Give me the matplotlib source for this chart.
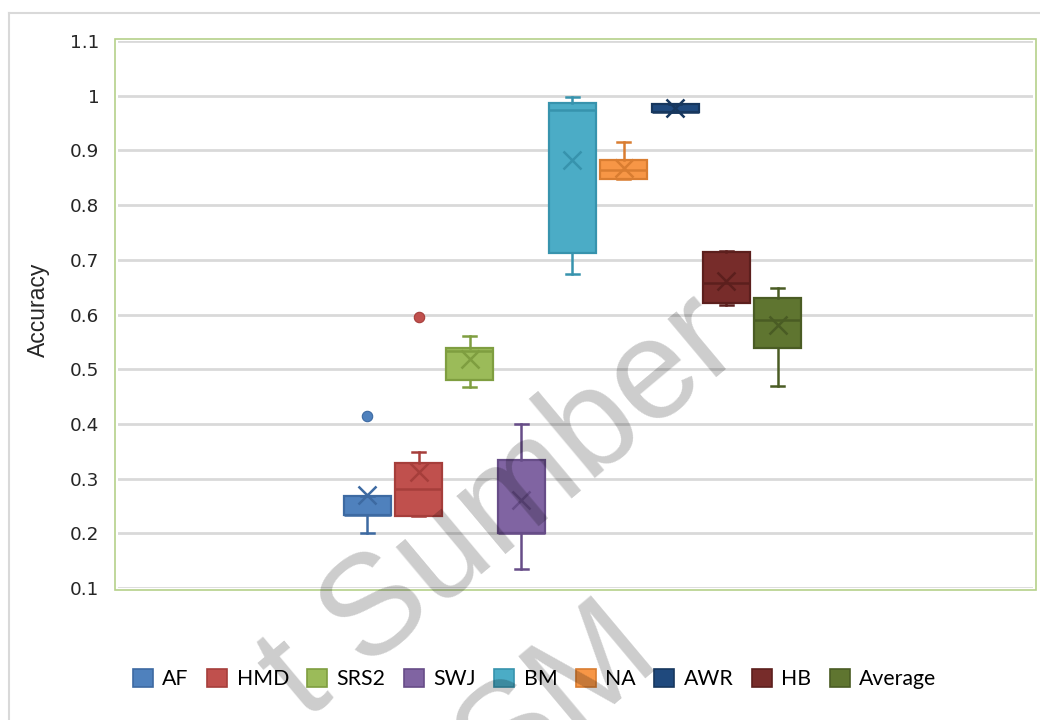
import matplotlib
matplotlib.use("Agg")
import matplotlib.pyplot as plt
from matplotlib.patches import Patch, Rectangle
from matplotlib.lines import Line2D

# Series names and five-number summaries of accuracy per method
labels = ['AF', 'HMD', 'SRS2', 'SWJ', 'BM', 'NA', 'AWR', 'HB', 'Average']
q1 = [0.233, 0.231, 0.481, 0.200, 0.712, 0.848, 0.970, 0.621, 0.539]
median = [0.233, 0.281, 0.533, 0.200, 0.974, 0.865, 0.970, 0.658, 0.590]
q3 = [0.268, 0.328, 0.539, 0.334, 0.986, 0.882, 0.984, 0.715, 0.630]
whisker_low = [0.201, 0.231, 0.467, 0.134, 0.674, 0.848, 0.970, 0.617, 0.470]
whisker_high = [0.268, 0.348, 0.560, 0.400, 0.998, 0.915, 0.984, 0.717, 0.649]
mean = [0.270, 0.312, 0.518, 0.260, 0.882, 0.868, 0.978, 0.662, 0.580]
outliers = [[0.414], [0.595], [], [], [], [], [], [], []]

y_ticks = [0.1, 0.2, 0.3, 0.4, 0.5, 0.6, 0.7, 0.8, 0.9, 1.0, 1.1]
y_ticklabels = ['0.1', '0.2', '0.3', '0.4', '0.5', '0.6', '0.7', '0.8', '0.9', '1', '1.1']

fills = ['#4f81bd', '#c0504d', '#9bbb59', '#8064a2', '#4bacc6',
         '#f79646', '#1f497d', '#772c2a', '#5f7530']
edges = ['#3d6aa2', '#a63e3b', '#7f9e40', '#674d88', '#3793ad',
         '#d97d31', '#17375e', '#5c1f1d', '#4a5c24']

W, H = 1040, 720
fig = plt.figure(figsize=(W / 100, H / 100), dpi=100)

# outer chart frame (top and left edges visible)
fig.add_artist(Line2D([8.5 / W, 1.0], [1 - 12.5 / H] * 2, color='#d9d9d9', lw=1.5))
fig.add_artist(Line2D([8.5 / W] * 2, [0, 1 - 12.5 / H], color='#d9d9d9', lw=1.5))

left, right, top, bottom = 118, 1033, 41, 588
ax = fig.add_axes([left / W, 1 - bottom / H, (right - left) / W, (bottom - top) / H])

# plot-area border in green, slightly outside the gridlines
fig.add_artist(Rectangle((114.5 / W, 1 - 590 / H), (1035.5 - 114.5) / W, (590 - 38.5) / H,
                         transform=fig.transFigure, fill=False, edgecolor='#b5d18a', lw=1.2))

stats = []
for i, name in enumerate(labels):
    stats.append(dict(label=name, q1=q1[i], med=median[i], q3=q3[i],
                      whislo=whisker_low[i], whishi=whisker_high[i],
                      mean=mean[i], fliers=outliers[i]))

spacing = 51.3
positions = list(range(len(labels)))
for i, s in enumerate(stats):
    ec = edges[i]
    ax.bxp([s], positions=[positions[i] - 0.06], widths=0.916, capwidths=0.25,
           patch_artist=True, showmeans=True, showfliers=True,
           boxprops=dict(facecolor=fills[i], edgecolor=ec, linewidth=1.6),
           medianprops=dict(color=ec, linewidth=1.8),
           whiskerprops=dict(color=ec, linewidth=1.8),
           capprops=dict(color=ec, linewidth=1.8),
           meanprops=dict(marker='x', markersize=13, markeredgecolor=ec,
                          markeredgewidth=1.8),
           flierprops=dict(marker='o', markersize=7.5, markerfacecolor=fills[i],
                           markeredgecolor=ec, markeredgewidth=0.8),
           zorder=3)

half = (right - left) / spacing / 2
ax.set_xlim(4 - half, 4 + half)
ax.set_ylim(0.1, 1.1)
ax.set_yticks(y_ticks)
ax.set_yticklabels(y_ticklabels, fontsize=13.2, family='DejaVu Sans', color='#262626')
ax.set_xticks([])
ax.tick_params(axis='y', length=0, pad=13.5)
ax.grid(axis='y', color='#d9d9d9', linewidth=2, zorder=0)
ax.set_axisbelow(True)
for sp in ax.spines.values():
    sp.set_visible(False)

fig.text(38 / W, 1 - 310 / H, 'Accuracy', rotation=90, ha='center', va='center',
         fontsize=16.5, family='Liberation Sans', color='#262626')

handles = [Patch(facecolor=fills[i], edgecolor=edges[i], linewidth=1.2) for i in range(len(labels))]
fig.legend(handles, labels, loc='center', bbox_to_anchor=(534.5 / W, 1 - 679 / H), ncol=9,
           frameon=False, prop=dict(family='Lato', size=15.3), handlelength=0.95,
           handleheight=0.95, handletextpad=0.45, columnspacing=0.85, borderpad=0)

# translucent watermark across the chart
wm = dict(rotation=40, rotation_mode='anchor', ha='left', va='baseline',
          family='Liberation Sans', fontsize=102, color='black', alpha=0.2, zorder=10)
fig.text(305 / W, 1 - 722 / H, 't Sumber', **wm)
fig.text(500 / W, 1 - 795 / H, 'SM', **wm)

fig.savefig('out.png', dpi=100, facecolor='white')
